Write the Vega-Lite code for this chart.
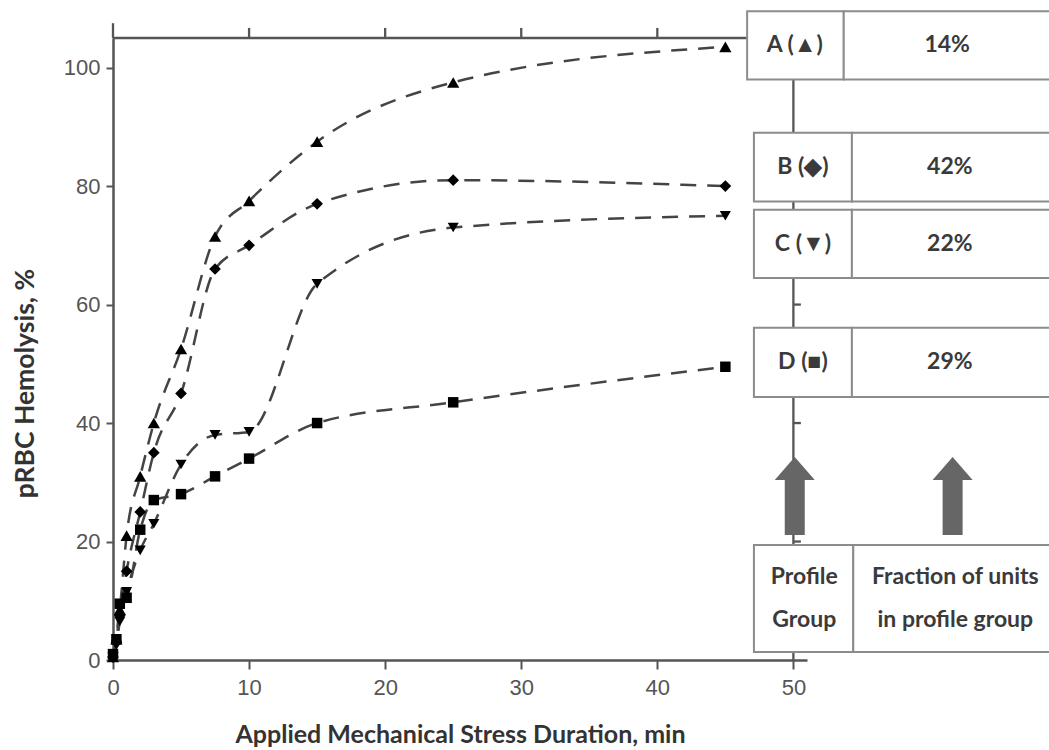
{
  "$schema": "https://vega.github.io/schema/vega-lite/v6.json",
  "width": 694,
  "height": 622,
  "autosize": {"type": "none"},
  "padding": {"left": 113, "top": 38, "right": 242, "bottom": 90},
  "background": "white",
  "config": {
    "view": {"stroke": null},
    "axis": {
      "grid": false,
      "domainColor": "#555555",
      "domainWidth": 2.5,
      "tickColor": "#555555",
      "tickWidth": 2,
      "labelColor": "#555555",
      "labelFont": "Liberation Sans",
      "labelFontSize": 22,
      "labelFlush": false,
      "titleFont": "Lato",
      "titleFontSize": 25,
      "titleFontWeight": "bold",
      "titleColor": "#333333"
    }
  },
  "datasets": {
    "series": [
      {"group": "A", "x": 0, "y": 0.5}, {"group": "A", "x": 0.25, "y": 3.5}, {"group": "A", "x": 0.5, "y": 8.5}, {"group": "A", "x": 1, "y": 21}, {"group": "A", "x": 2, "y": 31}, {"group": "A", "x": 3, "y": 40}, {"group": "A", "x": 5, "y": 52.5}, {"group": "A", "x": 7.5, "y": 71.5}, {"group": "A", "x": 10, "y": 77.5}, {"group": "A", "x": 15, "y": 87.5}, {"group": "A", "x": 25, "y": 97.5}, {"group": "A", "x": 45, "y": 103.5},
      {"group": "B", "x": 0, "y": 0.5}, {"group": "B", "x": 0.25, "y": 3}, {"group": "B", "x": 0.5, "y": 7.5}, {"group": "B", "x": 1, "y": 15}, {"group": "B", "x": 2, "y": 25}, {"group": "B", "x": 3, "y": 35}, {"group": "B", "x": 5, "y": 45}, {"group": "B", "x": 7.5, "y": 66}, {"group": "B", "x": 10, "y": 70}, {"group": "B", "x": 15, "y": 77}, {"group": "B", "x": 25, "y": 81}, {"group": "B", "x": 45, "y": 80},
      {"group": "C", "x": 0, "y": 0.5}, {"group": "C", "x": 0.25, "y": 2.5}, {"group": "C", "x": 0.5, "y": 6.5}, {"group": "C", "x": 1, "y": 11.5}, {"group": "C", "x": 2, "y": 18.5}, {"group": "C", "x": 3, "y": 23}, {"group": "C", "x": 5, "y": 33}, {"group": "C", "x": 7.5, "y": 38}, {"group": "C", "x": 10, "y": 38.5}, {"group": "C", "x": 15, "y": 63.5}, {"group": "C", "x": 25, "y": 73}, {"group": "C", "x": 45, "y": 75},
      {"group": "D", "x": 0, "y": 1}, {"group": "D", "x": 0.25, "y": 3.5}, {"group": "D", "x": 0.5, "y": 9.5}, {"group": "D", "x": 1, "y": 10.5}, {"group": "D", "x": 2, "y": 22}, {"group": "D", "x": 3, "y": 27}, {"group": "D", "x": 5, "y": 28}, {"group": "D", "x": 7.5, "y": 31}, {"group": "D", "x": 10, "y": 34}, {"group": "D", "x": 15, "y": 40}, {"group": "D", "x": 25, "y": 43.5}, {"group": "D", "x": 45, "y": 49.5}
    ],
    "boxes": [
      {"x": 46.6, "x2": 53.7, "y": 109.5, "y2": 98.0},
      {"x": 53.7, "x2": 69.6, "y": 109.5, "y2": 98.0},
      {"x": 47.1, "x2": 54.3, "y": 89.0, "y2": 77.4},
      {"x": 54.3, "x2": 69.6, "y": 89.0, "y2": 77.4},
      {"x": 47.1, "x2": 54.3, "y": 76.0, "y2": 64.5},
      {"x": 54.3, "x2": 69.6, "y": 76.0, "y2": 64.5},
      {"x": 47.1, "x2": 54.3, "y": 56.1, "y2": 44.4},
      {"x": 54.3, "x2": 69.6, "y": 56.1, "y2": 44.4},
      {"x": 47.1, "x2": 54.4, "y": 19.4, "y2": 1.35},
      {"x": 54.4, "x2": 69.6, "y": 19.4, "y2": 1.35}
    ],
    "arrows": [
      {"x": 50.1, "y": 27.7},
      {"x": 61.7, "y": 27.7}
    ],
    "labels": [
      {"x": 50.1, "y": 103.9, "label": "A (▲)"},
      {"x": 61.3, "y": 103.9, "label": "14%"},
      {"x": 50.7, "y": 83.3, "label": "B (◆)"},
      {"x": 61.5, "y": 83.3, "label": "42%"},
      {"x": 50.7, "y": 70.3, "label": "C (▼)"},
      {"x": 61.5, "y": 70.3, "label": "22%"},
      {"x": 50.7, "y": 50.3, "label": "D (■)"},
      {"x": 61.5, "y": 50.3, "label": "29%"},
      {"x": 50.8, "y": 14.0, "label": "Profile"},
      {"x": 50.8, "y": 6.8, "label": "Group"},
      {"x": 61.9, "y": 14.0, "label": "Fraction of units"},
      {"x": 61.9, "y": 6.8, "label": "in profile group"}
    ],
    "vrules": [
      {"x": 50, "y": 0, "y2": 105},
      {"x": 0, "y": 105, "y2": 107.5},
      {"x": 10, "y": 105, "y2": 106.7},
      {"x": 20, "y": 105, "y2": 106.7},
      {"x": 30, "y": 105, "y2": 106.7},
      {"x": 40, "y": 105, "y2": 106.7}
    ],
    "hrules": [
      {"x": 0, "x2": 51, "y": 105},
      {"x": 50, "x2": 50.55, "y": 20},
      {"x": 50, "x2": 50.55, "y": 40},
      {"x": 50, "x2": 50.55, "y": 60},
      {"x": 50, "x2": 50.55, "y": 80},
      {"x": 50, "x2": 50.55, "y": 100}
    ]
  },
  "encoding": {
    "x": {"field": "x", "type": "quantitative", "scale": {"domain": [0, 51], "nice": false, "zero": false},
          "axis": {"orient": "bottom", "values": [0, 10, 20, 30, 40, 50], "tickSize": 9, "labelPadding": 8, "titlePadding": 24, "title": "Applied Mechanical Stress Duration, min"}},
    "y": {"field": "y", "type": "quantitative", "scale": {"domain": [0, 105], "nice": false, "zero": false},
          "axis": {"orient": "left", "values": [0, 20, 40, 60, 80, 100], "tickSize": 7, "labelPadding": 6, "titlePadding": 24, "titleFontSize": 26.5, "titleY": 345, "title": "pRBC Hemolysis, %"}}
  },
  "layer": [
    {
      "data": {"name": "vrules"},
      "mark": {"type": "rule", "color": "#555555", "strokeWidth": 2.3},
      "encoding": {"y2": {"field": "y2"}}
    },
    {
      "data": {"name": "hrules"},
      "mark": {"type": "rule", "color": "#555555", "strokeWidth": 2.3},
      "encoding": {"x2": {"field": "x2"}}
    },
    {
      "data": {"name": "series"},
      "mark": {"type": "line", "interpolate": "monotone", "strokeDash": [16, 11], "strokeWidth": 2.5, "color": "#444444"},
      "encoding": {
        "detail": {"field": "group", "type": "nominal"}
      }
    },
    {
      "data": {"name": "series"},
      "mark": {"type": "point", "filled": true, "opacity": 1, "color": "#000000"},
      "encoding": {
        "shape": {"field": "group", "type": "nominal", "scale": {"domain": ["A", "B", "C", "D"], "range": ["triangle-up", "diamond", "triangle-down", "square"]}, "legend": null},
        "size": {"field": "group", "type": "nominal", "scale": {"domain": ["A", "B", "C", "D"], "range": [150, 110, 150, 105]}, "legend": null}
      }
    },
    {
      "data": {"name": "boxes"},
      "mark": {"type": "rect", "fill": "#ffffff", "stroke": "#8c8c8c", "strokeWidth": 2},
      "encoding": {"x2": {"field": "x2"}, "y2": {"field": "y2"}}
    },
    {
      "data": {"name": "arrows"},
      "mark": {"type": "point", "filled": true, "opacity": 1, "color": "#666666", "size": 6400,
               "shape": "M0,-0.975L0.5,-0.4L0.25,-0.4L0.25,0.975L-0.25,0.975L-0.25,-0.4L-0.5,-0.4Z"},
      "encoding": {}
    },
    {
      "data": {"name": "labels"},
      "mark": {"type": "text", "font": "Lato", "fontSize": 23, "fontWeight": "bold", "color": "#3a3a3a", "align": "center", "baseline": "middle"},
      "encoding": {"text": {"field": "label"}}
    }
  ]
}
